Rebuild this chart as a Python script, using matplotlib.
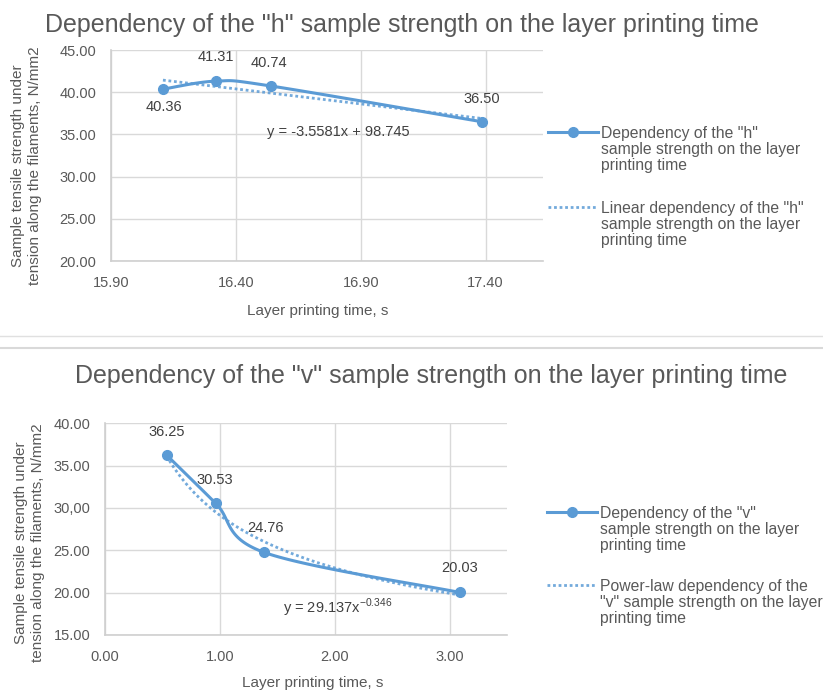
import numpy as np
import matplotlib
matplotlib.use("Agg")
import matplotlib.pyplot as plt
from matplotlib.lines import Line2D

plt.rcParams['font.family'] = ['Liberation Sans', 'DejaVu Sans']

# ---------------- data ----------------
h_time = [16.108, 16.32, 16.539, 17.385]
h_strength = [40.36, 41.31, 40.74, 36.50]
h_labels = ["40.36", "41.31", "40.74", "36.50"]
h_trend_slope = -3.5581
h_trend_intercept = 98.745
h_xticks = [15.90, 16.40, 16.90, 17.40]
h_xticklabels = ["15.90", "16.40", "16.90", "17.40"]
h_yticks = [20, 25, 30, 35, 40, 45]
h_yticklabels = ["20.00", "25.00", "30.00", "35.00", "40.00", "45.00"]

v_time = [0.536, 0.965, 1.385, 3.087]
v_strength = [36.25, 30.53, 24.76, 20.03]
v_labels = ["36.25", "30.53", "24.76", "20.03"]
v_trend_coef = 29.137
v_trend_exp = -0.346
v_xticks = [0, 1, 2, 3]
v_xticklabels = ["0.00", "1.00", "2.00", "3.00"]
v_yticks = [15, 20, 25, 30, 35, 40]
v_yticklabels = ["15.00", "20.00", "25.00", "30,00", "35.00", "40.00"]

BLUE = '#5B9BD5'
GREY_TXT = '#595959'
DARK_TXT = '#404040'
GRID = '#d9d9d9'

W, H = 823, 692
fig = plt.figure(figsize=(W / 100, H / 100), dpi=100)


def px_axes(l, t, r, b):
    return fig.add_axes([l / W, 1 - b / H, (r - l) / W, (b - t) / H])


def smooth_curve(ax, xs, ys, n=40):
    pts = ax.transData.transform(np.column_stack([xs, ys]))
    P = np.vstack([pts[0], pts, pts[-1]])
    out = []
    t = np.linspace(0, 1, n)[:, None]
    for i in range(1, len(P) - 2):
        p0, p1, p2, p3 = P[i - 1], P[i], P[i + 1], P[i + 2]
        c1 = p1 + (p2 - p0) / 6
        c2 = p2 - (p3 - p1) / 6
        seg = (1 - t) ** 3 * p1 + 3 * (1 - t) ** 2 * t * c1 + 3 * (1 - t) * t ** 2 * c2 + t ** 3 * p2
        out.append(seg if i == 1 else seg[1:])
    curve = ax.transData.inverted().transform(np.vstack(out))
    return curve[:, 0], curve[:, 1]


def style_axes(ax, xlim, ylim, xt, xtl, yt, ytl):
    ax.set_xlim(*xlim)
    ax.set_ylim(*ylim)
    ax.set_xticks(xt)
    ax.set_xticklabels(xtl)
    ax.set_yticks(yt)
    ax.set_yticklabels(ytl)
    ax.grid(True, color=GRID, lw=1.0)
    ax.set_axisbelow(True)
    for s in ['top', 'right']:
        ax.spines[s].set_visible(False)
    for s in ['left', 'bottom']:
        ax.spines[s].set_color('#cfcfcf')
        ax.spines[s].set_linewidth(1.2)
    ax.tick_params(axis='both', length=0, labelsize=10.5, labelcolor=GREY_TXT)
    ax.tick_params(axis='y', pad=10.5)
    ax.tick_params(axis='x', pad=11)


def fix_legend(leg):
    for t in leg.get_texts():
        t.set_linespacing(1.1)
        t.set_color(GREY_TXT)
    for col in leg._legend_handle_box.get_children():
        for item in col.get_children():
            item.align = 'top'


ylabel = "Sample tensile strength under\ntension along the filaments, N/mm2"

# ---------------- top chart ----------------
ax1 = px_axes(111, 50, 543, 261)
style_axes(ax1, (15.90, 17.63), (20, 45), h_xticks, h_xticklabels, h_yticks, h_yticklabels)
sx, sy = smooth_curve(ax1, h_time, h_strength)
ax1.plot(sx, sy, color=BLUE, lw=2.2, solid_capstyle='round', zorder=3)
ax1.plot(h_time, h_strength, 'o', color=BLUE, ms=7, zorder=4)
tx = np.linspace(min(h_time), max(h_time), 50)
ax1.plot(tx, h_trend_slope * tx + h_trend_intercept, color=BLUE, lw=2.0,
         linestyle=(0, (1, 1)), alpha=0.85, zorder=3)
h_off = [(1, -18), (0, 24), (-2, 23), (0, 23)]
for x, y, lab, (dx, dy) in zip(h_time, h_strength, h_labels, h_off):
    ax1.annotate(lab, (x, y), xytext=(dx, dy), textcoords='offset pixels',
                 ha='center', va='center', fontsize=10.5, color=DARK_TXT)
ax1.text(0.527, 0.612, "y = -3.5581x + 98.745", transform=ax1.transAxes,
         ha='center', va='center', fontsize=10.5, color=DARK_TXT)
ax1.set_xlabel("Layer printing time, s", fontsize=11, color=GREY_TXT)
ax1.xaxis.set_label_coords((318 - 111) / 432, (261 - 311) / 211)
ax1.xaxis.label.set_va('center')
ax1.set_ylabel(ylabel, fontsize=11, color=GREY_TXT, linespacing=1.2)
ax1.yaxis.label.set_va('center')
ax1.yaxis.set_label_coords((26.5 - 111) / 432, (261 - 166) / 211)

h1 = Line2D([], [], color=BLUE, lw=2.2, marker='o', ms=7)
h2 = Line2D([], [], color=BLUE, lw=2.0, linestyle=(0, (1, 1)), alpha=0.85)
leg1 = ax1.legend([h1, h2],
                  ['Dependency of the "h"\nsample strength on the layer\nprinting time',
                   'Linear dependency of the "h"\nsample strength on the layer\nprinting time'],
                  loc='upper left', bbox_to_anchor=(548 / W, 1 - 126 / H),
                  bbox_transform=fig.transFigure, frameon=False, fontsize=11.3,
                  borderpad=0, borderaxespad=0, handlelength=3.2, handletextpad=0.2,
                  handleheight=1.1, numpoints=1, labelspacing=1.75)
fix_legend(leg1)

# ---------------- bottom chart ----------------
ax2 = px_axes(105, 423.3, 507, 635)
style_axes(ax2, (0, 3.5), (15, 40), v_xticks, v_xticklabels, v_yticks, v_yticklabels)
sx, sy = smooth_curve(ax2, v_time, v_strength)
ax2.plot(sx, sy, color=BLUE, lw=2.2, solid_capstyle='round', zorder=3)
ax2.plot(v_time, v_strength, 'o', color=BLUE, ms=7, zorder=4)
tx = np.linspace(min(v_time), max(v_time), 80)
ax2.plot(tx, v_trend_coef * tx ** v_trend_exp, color=BLUE, lw=2.0,
         linestyle=(0, (1, 1)), alpha=0.85, zorder=3)
v_off = [(0, 23), (-1, 23.5), (1, 24), (0, 24)]
for x, y, lab, (dx, dy) in zip(v_time, v_strength, v_labels, v_off):
    ax2.annotate(lab, (x, y), xytext=(dx, dy), textcoords='offset pixels',
                 ha='center', va='center', fontsize=10.5, color=DARK_TXT)
ax2.text((283 - 105) / 402, (635 - 608) / 211.7,
         r"y = 29.137x$^{\mathregular{-0.346}}$", transform=ax2.transAxes,
         ha='left', va='center', fontsize=10.5, color=DARK_TXT)
ax2.set_xlabel("Layer printing time, s", fontsize=11, color=GREY_TXT)
ax2.xaxis.set_label_coords((313 - 105) / 402, (635 - 683) / 211.7)
ax2.xaxis.label.set_va('center')
ax2.set_ylabel(ylabel, fontsize=11, color=GREY_TXT, linespacing=1.2)
ax2.yaxis.label.set_va('center')
ax2.yaxis.set_label_coords((29.5 - 105) / 402, (635 - 543) / 211.7)

leg2 = ax2.legend([h1, h2],
                  ['Dependency of the "v"\nsample strength on the layer\nprinting time',
                   'Power-law dependency of the\n"v" sample strength on the layer\nprinting time'],
                  loc='upper left', bbox_to_anchor=(547 / W, 1 - 506 / H),
                  bbox_transform=fig.transFigure, frameon=False, fontsize=11.3,
                  borderpad=0, borderaxespad=0, handlelength=3.2, handletextpad=0.2,
                  handleheight=1.1, numpoints=1, labelspacing=1.6)
fix_legend(leg2)

# ---------------- titles & separators ----------------
fig.text(401.5 / W, 1 - 32 / H,
         'Dependency of the "h" sample strength on the layer printing time',
         ha='center', va='baseline', fontsize=18, color=GREY_TXT)
fig.text(431.5 / W, 1 - 383 / H,
         'Dependency of the "v" sample strength on the layer printing time',
         ha='center', va='baseline', fontsize=18, color=GREY_TXT)
fig.add_artist(Line2D([0, 1], [1 - 336 / H] * 2, transform=fig.transFigure,
                      color='#e0e0e0', lw=1.0))
fig.add_artist(Line2D([0, 1], [1 - 348 / H] * 2, transform=fig.transFigure,
                      color='#d9d9d9', lw=1.5))

fig.savefig('out.png', dpi=100)
